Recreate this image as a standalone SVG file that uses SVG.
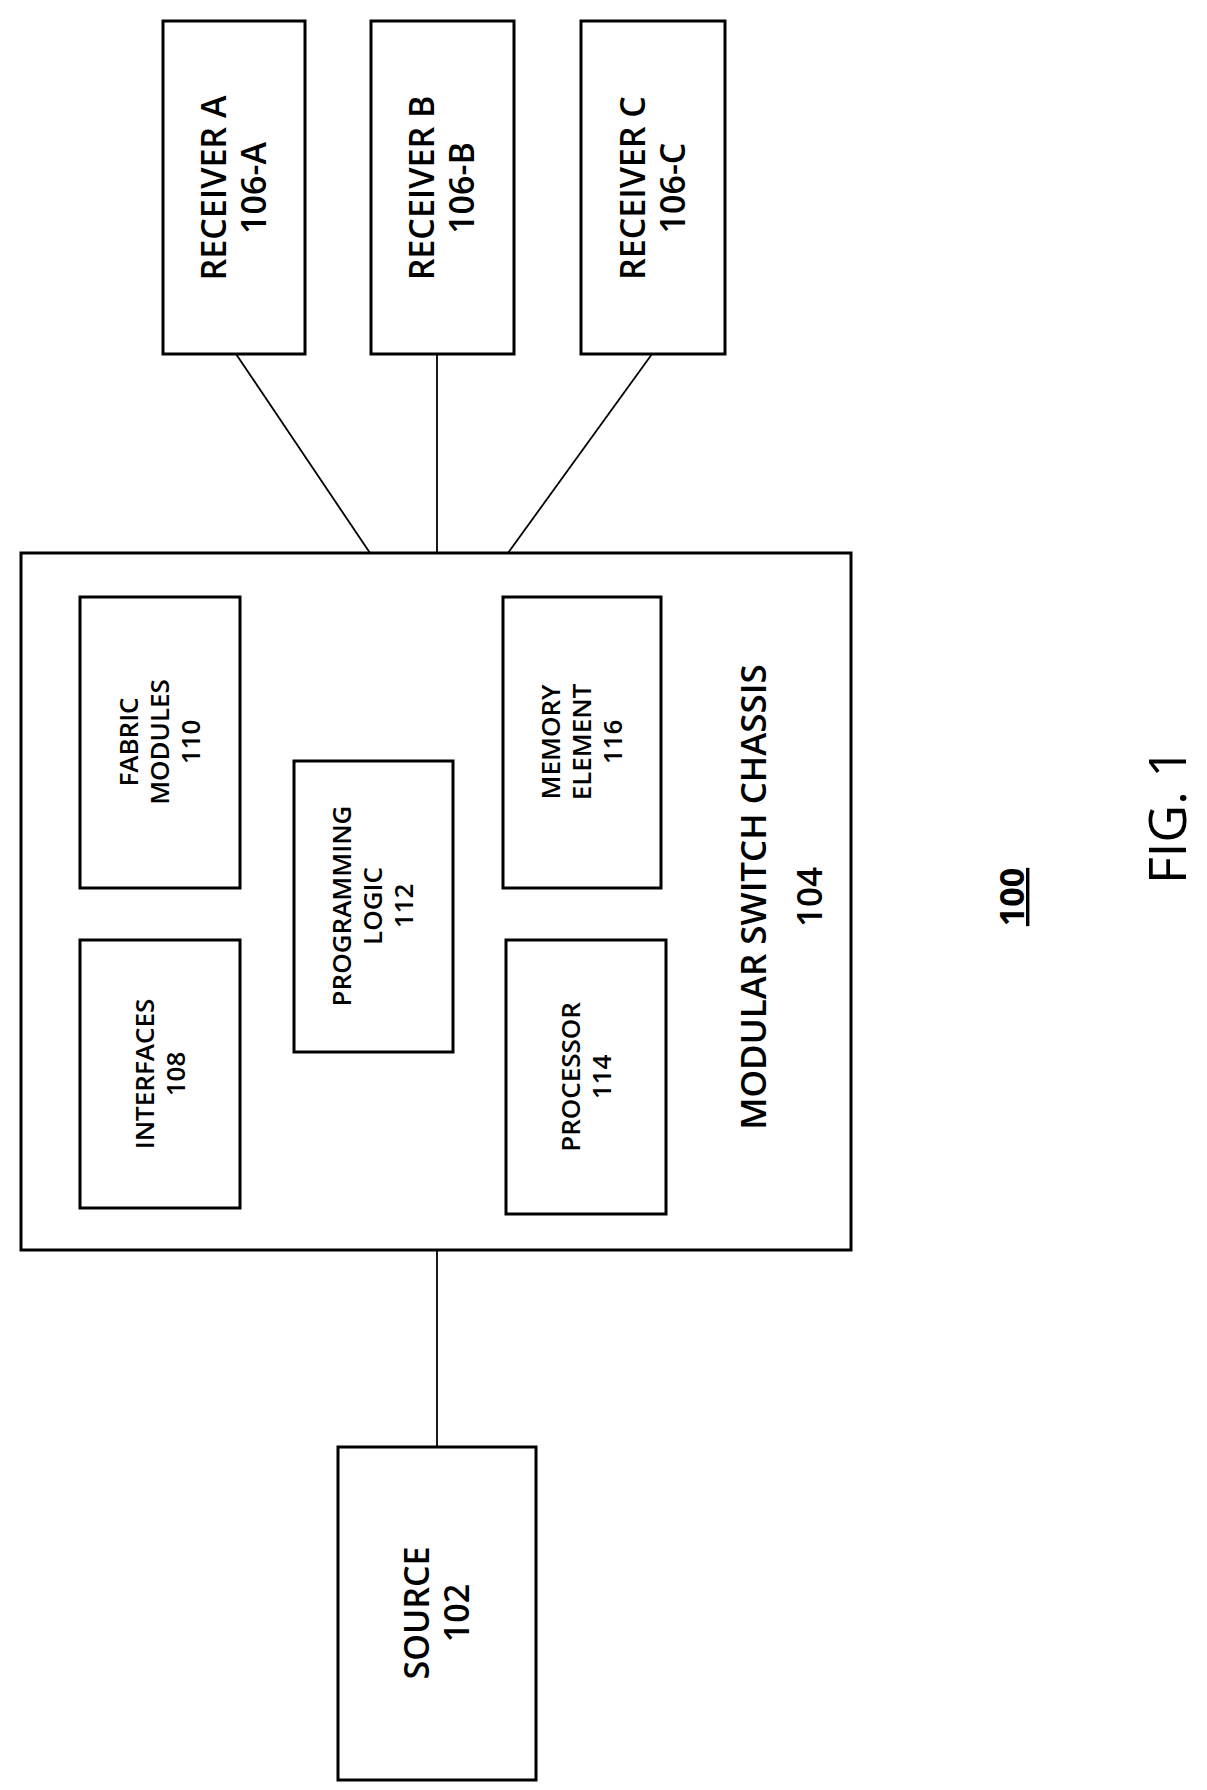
<svg xmlns="http://www.w3.org/2000/svg" width="1207" height="1790" viewBox="0 0 1207 1790">
<style>
rect{fill:#fff;stroke:#000;stroke-width:3}
.c line{stroke:#000;stroke-width:1.8}
text{font-family:"Open Sans","Liberation Sans",sans-serif;font-weight:600;text-anchor:middle;fill:#000}
.r{font-size:34px}
.i{font-size:26px}
</style>
<rect width="1207" height="1790" style="stroke:none"/>
<g class="c" id="connectors">
<line x1="236" y1="354" x2="370" y2="553"/>
<line x1="437" y1="354" x2="437" y2="553"/>
<line x1="652" y1="354" x2="508" y2="553"/>
<line x1="437" y1="1250" x2="437" y2="1447"/>
</g>
<g id="recA"><rect x="163" y="21" width="142" height="333"/><text class="r" transform="translate(234,188) rotate(-90)"><tspan x="0" dy="-8">RECEIVER A</tspan><tspan x="0" dy="40">106-A</tspan></text></g>
<g id="recB"><rect x="371" y="21" width="143" height="333"/><text class="r" transform="translate(442,188) rotate(-90)"><tspan x="0" dy="-8">RECEIVER B</tspan><tspan x="0" dy="40">106-B</tspan></text></g>
<g id="recC"><rect x="581" y="21" width="144" height="333"/><text class="r" transform="translate(653,188) rotate(-90)"><tspan x="0" dy="-8">RECEIVER C</tspan><tspan x="0" dy="40">106-C</tspan></text></g>
<g id="chassis"><rect x="21" y="553" width="830" height="697"/><text style="font-size:35px" transform="translate(782,897) rotate(-90)"><tspan x="0" dy="-16">MODULAR SWITCH CHASSIS</tspan><tspan x="0" dy="56">104</tspan></text></g>
<g id="fabric"><rect x="80" y="597" width="160" height="291"/><text class="i" transform="translate(160,742) rotate(-90)"><tspan x="0" dy="-22">FABRIC</tspan><tspan x="0" dy="31">MODULES</tspan><tspan x="0" dy="31">110</tspan></text></g>
<g id="interfaces"><rect x="80" y="940" width="160" height="268"/><text class="i" transform="translate(160,1074) rotate(-90)"><tspan x="0" dy="-6">INTERFACES</tspan><tspan x="0" dy="31">108</tspan></text></g>
<g id="programming"><rect x="294" y="761" width="159" height="291"/><text class="i" transform="translate(373,906) rotate(-90)"><tspan x="0" dy="-22">PROGRAMMING</tspan><tspan x="0" dy="31">LOGIC</tspan><tspan x="0" dy="31">112</tspan></text></g>
<g id="memory"><rect x="503" y="597" width="158" height="291"/><text class="i" transform="translate(582,742) rotate(-90)"><tspan x="0" dy="-22">MEMORY</tspan><tspan x="0" dy="31">ELEMENT</tspan><tspan x="0" dy="31">116</tspan></text></g>
<g id="processor"><rect x="506" y="940" width="160" height="274"/><text class="i" transform="translate(586,1077) rotate(-90)"><tspan x="0" dy="-6">PROCESSOR</tspan><tspan x="0" dy="31">114</tspan></text></g>
<g id="source"><rect x="338" y="1447" width="198" height="333"/><text class="r" transform="translate(437,1613) rotate(-90)"><tspan x="0" dy="-8">SOURCE</tspan><tspan x="0" dy="40">102</tspan></text></g>
<g id="label100"><text style="font-size:34px;font-weight:700;text-decoration:underline" transform="translate(1024,897) rotate(-90)">100</text></g>
<g id="fig"><text style="font-size:52px;font-weight:400" transform="translate(1186,816) rotate(-90)">FIG. 1</text></g>
</svg>
